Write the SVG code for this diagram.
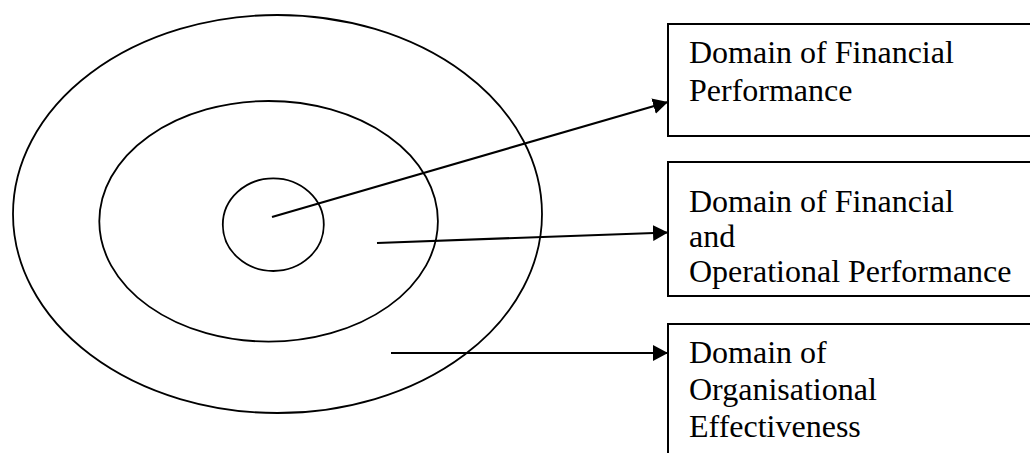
<svg xmlns="http://www.w3.org/2000/svg" width="1030" height="453" viewBox="0 0 1030 453">
<defs>
<style>
.ring{fill:none;stroke:#000;stroke-width:1.8}
.box{fill:#fff;stroke:#000;stroke-width:2}
.lbl{font-family:"Liberation Serif","Times New Roman",serif;font-size:32px;fill:#000}
.conn{stroke:#000;stroke-width:2.2;fill:none;marker-end:url(#ah)}
</style>
<marker id="ah" markerWidth="16" markerHeight="16" refX="15" refY="8" orient="auto" markerUnits="userSpaceOnUse">
<path d="M0,0 L15,8 L0,16 Z" fill="#000"/>
</marker>
</defs>
<rect width="1030" height="453" fill="#fff"/>
<g id="outer-ring"><ellipse class="ring" cx="277.5" cy="214" rx="264.5" ry="199"/></g>
<g id="middle-ring"><ellipse class="ring" cx="268.6" cy="221.3" rx="169.3" ry="120.3"/></g>
<g id="inner-ring"><ellipse class="ring" cx="273.3" cy="224.7" rx="50.5" ry="46.3"/></g>
<g id="box-financial">
<rect class="box" x="668" y="24" width="400" height="112"/>
<text class="lbl" x="689" y="63">Domain of Financial</text>
<text class="lbl" x="689" y="100.5">Performance</text>
</g>
<g id="box-operational">
<rect class="box" x="668" y="162" width="400" height="134"/>
<text class="lbl" x="689" y="211.5">Domain of Financial</text>
<text class="lbl" x="689" y="246.5">and</text>
<text class="lbl" x="689" y="281.5">Operational Performance</text>
</g>
<g id="box-organisational">
<rect class="box" x="668" y="324" width="400" height="160"/>
<text class="lbl" x="689" y="363">Domain of</text>
<text class="lbl" x="689" y="400">Organisational</text>
<text class="lbl" x="689" y="436.5">Effectiveness</text>
</g>
<g id="connectors">
<line class="conn" x1="272" y1="217" x2="668" y2="102"/>
<line class="conn" x1="377" y1="243" x2="668" y2="232.5"/>
<line class="conn" x1="391" y1="353" x2="668" y2="353"/>
</g>
</svg>
